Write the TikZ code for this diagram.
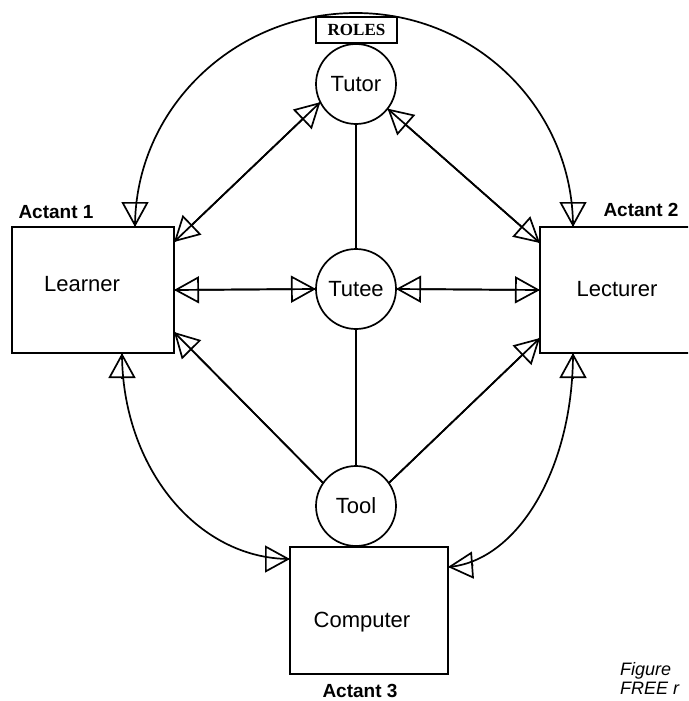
\documentclass[tikz,border=0pt]{standalone}
\usepackage{fontspec}
\setmainfont{Liberation Sans}
\newfontfamily\rolesfont{Liberation Serif}
\usetikzlibrary{arrows.meta,calc}
\newcommand\twoway[2]{\draw[line] #2; \draw[line,#1] #2;}
\newcommand\tipon[2]{\draw[line,->] ($(#1)+(#2)$) -- (#1);}
\begin{document}
\begin{tikzpicture}[x=1pt,y=-1pt,
  every node/.style={inner sep=0pt, outer sep=0pt},
  line/.style={line width=1.7pt},
  >={Triangle[open,length=25pt,width=27pt]},
  box/.style={draw, line width=1.8pt},
  role/.style={draw, circle, line width=1.7pt, minimum size=80pt, font=\fontsize{22}{24}\selectfont},
  boxtext/.style={anchor=base, font=\fontsize{22}{24}\selectfont},
  actant/.style={anchor=base, font=\bfseries\fontsize{19}{21}\selectfont},
  rolesbox/.style={draw, line width=1.5pt, minimum width=81pt, minimum height=26pt, font=\rolesfont\bfseries\fontsize{17}{19}\selectfont},
  caption/.style={anchor=base west, font=\itshape\fontsize{18}{20}\selectfont}
]
\useasboundingbox (0,0) rectangle (688,701);
\clip (0,0) rectangle (688,701);

% boxes
\node[box, minimum width=162pt, minimum height=126pt] (learner) at (93,290) {};
\node[box, minimum width=154pt, minimum height=126pt] (lecturer) at (617,290) {};
\node[box, minimum width=158pt, minimum height=127pt] (computer) at (369,610.5) {};
\node[boxtext] (learnertxt) at (82,291) {Learner};
\node[boxtext] (lecturertxt) at (617,296) {Lecturer};
\node[boxtext] (computertxt) at (362,627) {Computer};

% labels
\node[actant] (act1) at (56,218) {Actant 1};
\node[actant] (act2) at (641,216) {Actant 2};
\node[actant] (act3) at (360,697) {Actant 3};
\node[rolesbox] (roles) at (356.5,30) {ROLES};
\node[caption] (fig1) at (620,675) {Figure};
\node[caption] (fig2) at (620,694) {FREE r};

% role circles
\node[role] (tutor) at (356,84) {Tutor};
\node[role] (tutee) at (356,289) {Tutee};
\node[role] (tool) at (356,506) {Tool};

% curve end points
\coordinate (arctop) at (356,13);
\coordinate (lrntop) at ([xshift=123pt]learner.north west);
\coordinate (lectop) at ([xshift=33pt]lecturer.north west);
\coordinate (lrnbot) at ([xshift=110pt]learner.south west);
\coordinate (lecbot) at ([xshift=33pt]lecturer.south west);
\coordinate (compl) at ([yshift=-12pt]computer.north west);
\coordinate (compr) at ([yshift=-20pt]computer.north east);

% plain vertical links
\draw[line] (tutor) -- (tutee);
\draw[line] (tutee) -- (tool);

% straight two-way links
\twoway{<->}{([yshift=-15pt]learner.north east) -- (tutor.207)}
\twoway{<->}{(tutor.-38) -- ([yshift=-16pt]lecturer.north west)}
\twoway{<->}{(learner.east) -- (tutee.west)}
\twoway{<->}{(tutee.east) -- (lecturer.west)}
\twoway{<-}{([yshift=21pt]learner.south east) -- (tool.145)}
\twoway{<-}{([yshift=15pt]lecturer.south west) -- (tool.35)}

% curved links
\draw[line] (lrntop) .. controls +(0,-118) and +(-122,0) .. (arctop) .. controls +(120,0) and +(0,-118) .. (lectop);
\tipon{lrntop}{0,-25.5}
\tipon{lectop}{0,-25.5}
\draw[line] (lrnbot) .. controls +(0,114) and +(-93,0) .. (compl);
\tipon{lrnbot}{0,25.5}
\tipon{compl}{-25.5,0}
\draw[line] (lecbot) .. controls +(0,118) and +(68,-5) .. (compr);
\tipon{lecbot}{0,25.5}
\tipon{compr}{25.4,-1.9}
\end{tikzpicture}
\end{document}
